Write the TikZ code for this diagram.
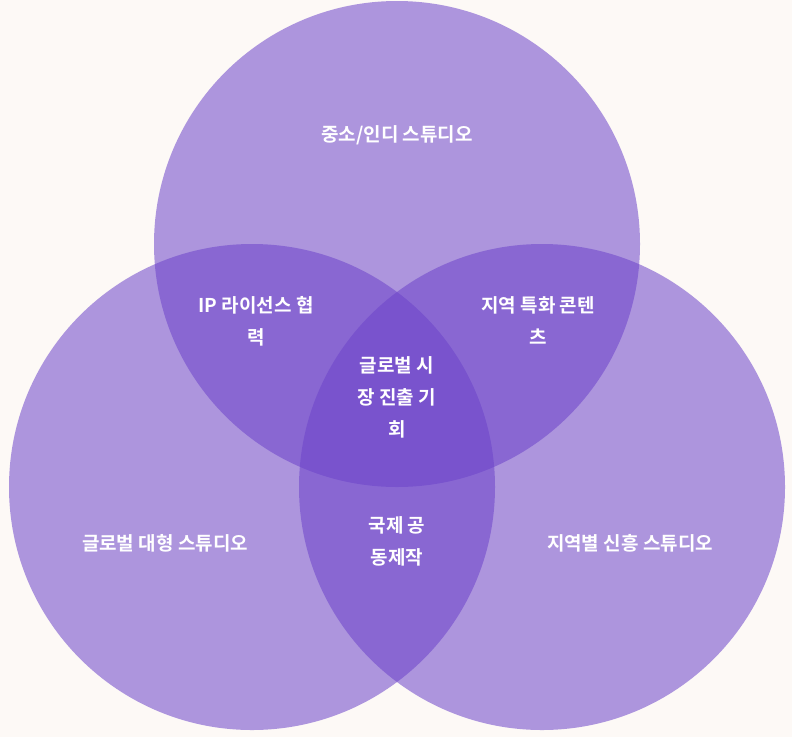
\documentclass[tikz,border=0pt]{standalone}
\usepackage{fontspec}
\newfontfamily\kr{Noto Sans CJK KR}[BoldFont={* Bold}]
\definecolor{bg}{RGB}{253,249,246}
\definecolor{vio}{RGB}{108,67,202}
\begin{document}
\begin{tikzpicture}[x=1pt,y=-1pt,
  circ/.style={fill=vio,fill opacity=0.55,draw=none},
  lab/.style={text=white,font=\kr\bfseries\fontsize{19}{32}\selectfont,align=center}]
\fill[bg] (0,0) rectangle (792,737);
\useasboundingbox (0,0) rectangle (792,737);
\fill[circ] (397,244) circle (243);
\fill[circ] (252,487) circle (243);
\fill[circ] (542,487) circle (243);
\node[lab] (a) at (397,135) {중소/인디 스튜디오};
\node[lab] (b) at (256,321) {IP 라이선스 협\\력};
\node[lab] (c) at (538,321) {지역 특화 콘텐\\츠};
\node[lab] (d) at (397,397) {글로벌 시\\장 진출 기\\회};
\node[lab] (e) at (165,543) {글로벌 대형 스튜디오};
\node[lab] (f) at (397,541) {국제 공\\동제작};
\node[lab] (g) at (630,543) {지역별 신흥 스튜디오};
\end{tikzpicture}
\end{document}
